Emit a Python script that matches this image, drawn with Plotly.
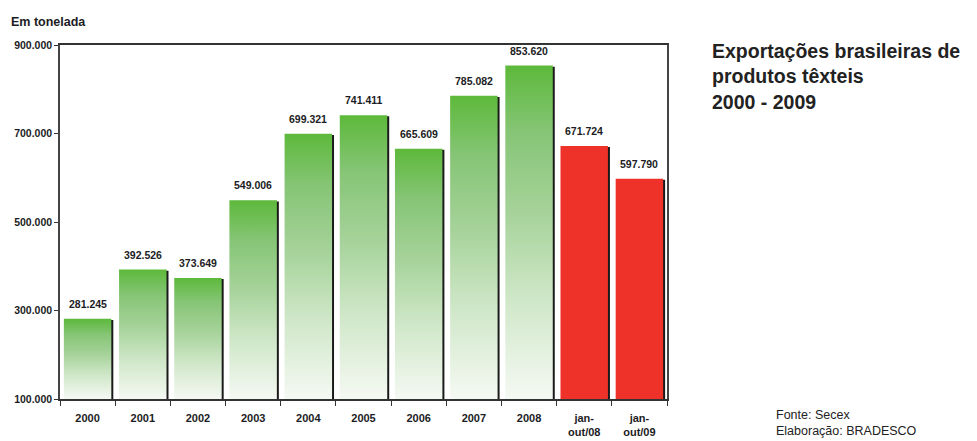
import plotly.graph_objects as go

categories = ["2000", "2001", "2002", "2003", "2004", "2005", "2006", "2007", "2008",
              "jan-<br>out/08", "jan-<br>out/09"]
values = [281245, 392526, 373649, 549006, 699321, 741411, 665609, 785082, 853620,
          671724, 597790]
kinds = ["green"] * 9 + ["red"] * 2
y_ticks = [100000, 300000, 500000, 700000, 900000]
y_tick_labels = ["100.000", "300.000", "500.000", "700.000", "900.000"]

FONT = "Liberation Sans, Arial, sans-serif"
TXT = "#1c1c24"


def fmt(v):
    return f"{v:,}".replace(",", ".")


fig = go.Figure()
base = y_ticks[0]
half = 0.43
sx = 0.036
sy = 2500

# shadows
for i, v in enumerate(values):
    x0, x1 = i - half + sx, i + half + sx
    fig.add_trace(go.Scatter(
        x=[x0, x1, x1, x0, x0], y=[base, base, v - sy, v - sy, base],
        fill="toself", fillcolor="#1a1a1a", mode="lines", line=dict(width=0),
        hoverinfo="skip", showlegend=False))

# bars
for i, v in enumerate(values):
    x0, x1 = i - half, i + half
    kw = dict(x=[x0, x1, x1, x0, x0], y=[base, base, v, v, base],
              fill="toself", mode="lines", line=dict(width=0),
              name=categories[i], showlegend=False,
              hovertemplate=fmt(v) + "<extra></extra>")
    if kinds[i] == "green":
        kw["fillgradient"] = dict(type="vertical",
                                  colorscale=[[0, "#f5f9f3"], [0.3, "#cfe7c8"],
                                              [0.55, "#a7d39b"], [0.8, "#86c576"],
                                              [1, "#5db93b"]])
    else:
        kw["fillcolor"] = "#ee3129"
    fig.add_trace(go.Scatter(**kw))

annotations = []
for i, v in enumerate(values):
    annotations.append(dict(x=i, y=v, xref="x", yref="y", text=fmt(v), showarrow=False,
                            yanchor="bottom", yshift=7,
                            font=dict(family=FONT, size=10.5, color=TXT, weight="bold")))

annotations.append(dict(xref="paper", yref="paper", x=(9 - 60) / 607, y=(399 - 13) / 354,
                        xanchor="left", yanchor="top", text="Em tonelada", showarrow=False,
                        font=dict(family=FONT, size=12.5, color=TXT, weight="bold")))
annotations.append(dict(xref="paper", yref="paper", x=(710 - 60) / 607, y=(399 - 38) / 354,
                        xanchor="left", yanchor="top", align="left", showarrow=False,
                        text="Exportações brasileiras de<br>produtos têxteis<br>2000 - 2009",
                        font=dict(family=FONT, size=19.5, color="#222222", weight="bold")))
annotations.append(dict(xref="paper", yref="paper", x=(774 - 60) / 607, y=(399 - 423) / 354,
                        xanchor="left", yanchor="middle", align="left", showarrow=False,
                        text="Fonte: Secex<br>Elaboração: BRADESCO",
                        font=dict(family=FONT, size=12.5, color="#222222")))

fig.update_layout(
    width=977, height=441,
    margin=dict(l=60, r=310, t=45, b=42, autoexpand=False),
    paper_bgcolor="white", plot_bgcolor="white",
    annotations=annotations,
    xaxis=dict(
        range=[-0.5, len(values) - 0.5],
        tickvals=list(range(len(categories))), ticktext=categories,
        ticks="", showgrid=False, zeroline=False, automargin=False,
        showline=True, linecolor="#333333", linewidth=1.5, mirror=True,
        ticklabelstandoff=8,
        tickfont=dict(family=FONT, size=11, color=TXT, weight="bold"),
        minor=dict(tickmode="linear", tick0=-0.5, dtick=1, ticks="outside",
                   ticklen=5, tickwidth=1.2, tickcolor="#333333", showgrid=False),
        fixedrange=True,
    ),
    yaxis=dict(
        range=[base, y_ticks[-1]],
        tickvals=y_ticks, ticktext=y_tick_labels,
        ticks="outside", ticklen=4, tickwidth=1.2, tickcolor="#333333",
        showgrid=False, zeroline=False, automargin=False,
        showline=True, linecolor="#444444", linewidth=1.5, mirror=True,
        tickfont=dict(family=FONT, size=10.5, color=TXT, weight="bold"),
        fixedrange=True,
    ),
)

fig.write_html("out.html", config={"displayModeBar": False},
               post_script="document.body.style.margin='0px';")
